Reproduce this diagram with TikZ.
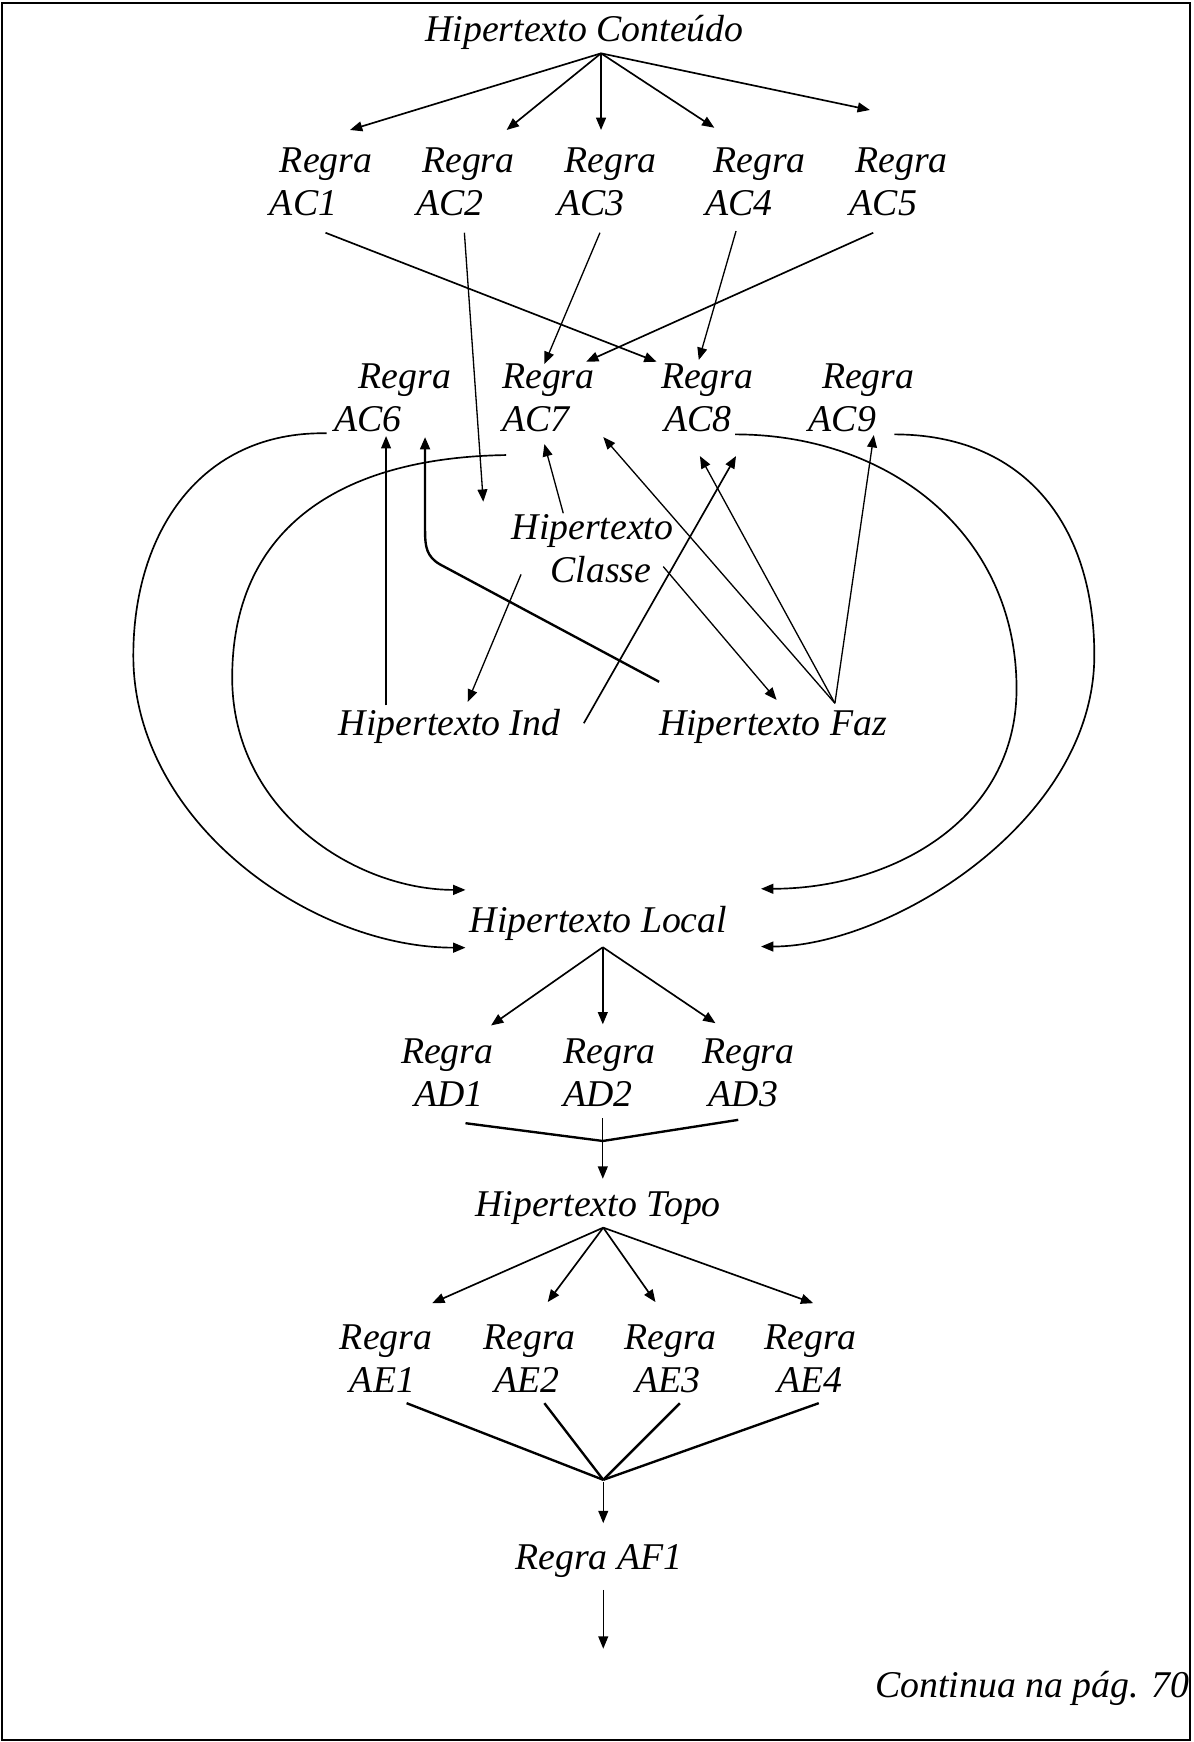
\documentclass[tikz,border=0pt]{standalone}
\usepackage{fontspec}
\setmainfont{Liberation Serif}
\usetikzlibrary{arrows.meta,calc}
% two stacked lines, the second one nudged sideways
\newcommand\twoline[3]{\begin{tabular}[t]{@{}l@{}}#1\\\hspace*{#2}#3\end{tabular}}
\begin{document}
\begin{tikzpicture}[x=0.022216cm,y=-0.022216cm,
  lbl/.style={anchor=base west,inner sep=0pt,outer sep=0pt,
              font=\itshape\fontsize{21.5}{24.5}\selectfont},
  wire/.style={line width=0.95pt,line join=round},
  fine/.style={line width=0.75pt,line join=round},
  heavy/.style={line width=1.35pt,line join=round},
  tip/.style={-{Triangle[length=7pt,width=5.6pt]}}]
\useasboundingbox (0,0) rectangle (1074,1568);
\draw[line width=1.1pt] (1.8,2.7) rectangle (1071.3,1566.5);

% ---- labels ----
\node[lbl] (top) at (383,37.5) {Hipertexto Conteúdo};
\node[lbl] (ac1) at (252,155) {\twoline{Regra}{-5.7pt}{AC1}};
\node[lbl] (ac2) at (380,155) {\twoline{Regra}{-3.2pt}{AC2}};
\node[lbl] (ac3) at (508,155) {\twoline{Regra}{-3.8pt}{AC3}};
\node[lbl] (ac4) at (642,155) {\twoline{Regra}{-4.4pt}{AC4}};
\node[lbl] (ac5) at (770,155) {\twoline{Regra}{-3.2pt}{AC5}};
\node[lbl] (ac6) at (323,350) {\twoline{Regra}{-13.9pt}{AC6}};
\node[lbl] (ac7) at (452,350) {\twoline{Regra}{0pt}{AC7}};
\node[lbl] (ac8) at (595,350) {\twoline{Regra}{1.9pt}{AC8}};
\node[lbl] (ac9) at (740,350) {\twoline{Regra}{-7.6pt}{AC9}};
\node[lbl] (classe) at (460.6,486) {\twoline{Hipertexto}{22.1pt}{Classe}};
\node[lbl] (ind) at (305,662) {Hipertexto Ind};
\node[lbl] (faz) at (593.3,662) {Hipertexto Faz};
\node[lbl] (local) at (423,839) {Hipertexto Local};
\node[lbl] (ad1) at (361,957) {\twoline{Regra}{7.6pt}{AD1}};
\node[lbl] (ad2) at (507,957) {\twoline{Regra}{0pt}{AD2}};
\node[lbl] (ad3) at (632,957) {\twoline{Regra}{3.8pt}{AD3}};
\node[lbl] (topo) at (428,1095) {Hipertexto Topo};
\node[lbl] (ae1) at (306,1215) {\twoline{Regra}{5.7pt}{AE1}};
\node[lbl] (ae2) at (435,1215) {\twoline{Regra}{6.3pt}{AE2}};
\node[lbl] (ae3) at (562,1215) {\twoline{Regra}{6.3pt}{AE3}};
\node[lbl] (ae4) at (688,1215) {\twoline{Regra}{7.6pt}{AE4}};
\node[lbl] (af1) at (464,1413) {Regra AF1};
\node[lbl] (cont) at (788,1528) {Continua na pág. 70};

% ---- junctions and free ends ----
\coordinate (j1) at ($(ad2.base west)+(35.6,70)$);
\coordinate (j2) at ($(af1.base west)+(79,-81)$);
\coordinate (out) at ($(af1.base west)+(79,71)$);

% ---- Hipertexto Conteudo fan ----
\foreach \n/\dx/\dy in {ac1/63/-38, ac2/76/-38, ac3/33/-38, ac4/1/-40, ac5/13/-56}
  \draw[wire,tip] ($(top.base west)+(158,10.5)$) -- ($(\n.base west)+(\dx,\dy)$);

% ---- first rule row to second ----
\draw[wire,tip] ($(ac1.base west)+(41,54.5)$) -- ($(ac8.base west)+(-4,-24.4)$);
\draw[fine,tip] ($(ac2.base west)+(38,54.5)$) -- ($(classe.base west)+(-25.6,-34.4)$);
\draw[fine,tip] ($(ac3.base west)+(32,54.5)$) -- ($(ac7.base west)+(38,-22.3)$);
\draw[fine,tip] ($(ac4.base west)+(20.5,53)$) -- ($(ac8.base west)+(34,-26)$);
\draw[wire,tip] ($(ac5.base west)+(16,54.5)$) -- ($(ac7.base west)+(75.6,-24.4)$);

% ---- big loops into Hipertexto Local ----
\draw[wire,tip] ($(ac6.base west)+(-29,40)$)
  .. controls (180,388) and (120,480) .. (120,590)
  .. controls (120,740) and (280,853) .. ($(local.base west)+(-4,14)$);
\draw[wire,tip] ($(ac7.base west)+(3.5,59.6)$)
  .. controls (300,412) and (209,480) .. (209,610)
  .. controls (209,730) and (320,801) .. ($(local.base west)+(-4,-38)$);
\draw[wire,tip] ($(ac8.base west)+(66.7,41)$)
  .. controls (800,391) and (915,480) .. (915,620)
  .. controls (915,740) and (800,800) .. ($(local.base west)+(262,-39)$);
\draw[wire,tip] ($(ac9.base west)+(65,41)$)
  .. controls (920,391) and (985,470) .. (985,590)
  .. controls (985,740) and (800,852) .. ($(local.base west)+(262,13)$);

% ---- middle block ----
\draw[fine,tip] ($(ind.base west)+(42.5,-27)$) -- ($(ac6.base west)+(24.5,42.5)$);
\draw[heavy,tip] ($(faz.base west)+(0,-48.3)$) -- (396,508)
  .. controls (384,501) and (382.6,492) .. (382.6,478)
  -- ($(ac6.base west)+(59.6,43.4)$);
\draw[fine,tip] ($(classe.base west)+(46.4,-24)$) -- ($(ac7.base west)+(38,49.7)$);
\draw[fine,tip] ($(classe.base west)+(8.4,31)$) -- ($(ind.base west)+(116,-30.3)$);
\draw[fine,tip] ($(classe.base west)+(136.4,24)$) -- ($(faz.base west)+(105.7,-32)$);
\draw[wire,tip] ($(ind.base west)+(220.5,-11)$) -- ($(ac8.base west)+(67.5,60.5)$);
\draw[fine,tip] ($(faz.base west)+(158.2,-29)$) -- ($(ac7.base west)+(91,43.4)$);
\draw[fine,tip] ($(faz.base west)+(158.2,-29)$) -- ($(ac8.base west)+(35,60.5)$);
\draw[fine,tip] ($(faz.base west)+(158.2,-29)$) -- ($(ac9.base west)+(46.5,41.6)$);

% ---- Hipertexto Local fan ----
\foreach \n/\dx/\dy in {ad1/81/-34, ad2/35.6/-35, ad3/12/-36}
  \draw[wire,tip] ($(local.base west)+(119.6,13.6)$) -- ($(\n.base west)+(\dx,\dy)$);
\draw[heavy] ($(ad1.base west)+(58,54)$) -- (j1) -- ($(ad3.base west)+(32.5,51)$);
\draw[fine,tip] ($(ad2.base west)+(35.6,49.6)$) -- ($(topo.base west)+(114.6,-34)$);

% ---- Hipertexto Topo fan ----
\foreach \n/\dx/\dy in {ae1/83/-42, ae2/58/-43, ae3/28/-43, ae4/44/-42}
  \draw[wire,tip] ($(topo.base west)+(115,10)$) -- ($(\n.base west)+(\dx,\dy)$);
\foreach \n/\dx in {ae1/60, ae2/55, ae3/50, ae4/49}
  \draw[heavy] ($(\n.base west)+(\dx,48)$) -- (j2);
\draw[fine,tip] ($(af1.base west)+(79,-79)$) -- ($(af1.base west)+(79,-42)$);
\draw[fine,tip] ($(af1.base west)+(79,18)$) -- (out);
\end{tikzpicture}
\end{document}
